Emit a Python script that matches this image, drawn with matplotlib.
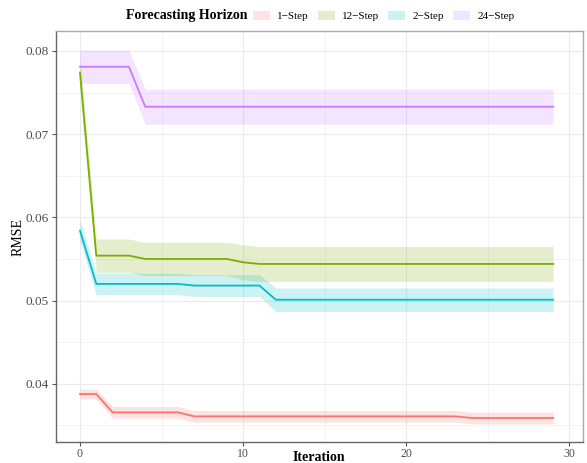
import numpy as np
import matplotlib.pyplot as plt
from matplotlib.patches import Patch

plt.rcParams["font.family"] = ["Liberation Serif", "DejaVu Serif"]

# RMSE per iteration for each forecasting horizon
iterations = np.arange(30)

rmse_1 = [0.03876, 0.03876] + [0.03656] * 5 + [0.03608] * 17 + [0.03588] * 6
rmse_12 = [0.0774, 0.0554, 0.0554, 0.0554] + [0.0550] * 6 + [0.0546] + [0.0544] * 19
rmse_2 = [0.0584] + [0.0520] * 6 + [0.0518] * 5 + [0.0501] * 18
rmse_24 = [0.0781] * 4 + [0.0733] * 26

# half-width of the shaded uncertainty band
band_1 = [0.0006, 0.0006] + [0.0007] * 28
band_12 = [0.0020] * 10 + [0.0021] * 20
band_2 = [0.0013] * 12 + [0.0014] * 18
band_24 = [0.0020] * 4 + [0.0021] * 26

labels = ["1\u2212Step", "12\u2212Step", "2\u2212Step", "24\u2212Step"]
colors = ["#F8766D", "#7CAE00", "#00BFC4", "#C77CFF"]
series = [rmse_1, rmse_12, rmse_2, rmse_24]
bands = [band_1, band_12, band_2, band_24]

fig = plt.figure(figsize=(5.87, 4.63), dpi=100)
ax = fig.add_axes([0.0954, 0.0454, 0.897, 0.8876])

for y, b, c in zip(series, bands, colors):
    y = np.array(y)
    b = np.array(b)
    ax.fill_between(iterations, y - b, y + b, color=c, alpha=0.2, linewidth=0)
    ax.plot(iterations, y, color=c, linewidth=1.3)

ax.set_xlim(-1.47, 30.8)
ax.set_ylim(0.0330, 0.0824)
ax.set_xticks([0, 10, 20, 30])
ax.set_yticks([0.04, 0.05, 0.06, 0.07, 0.08])
ax.set_xticks([5, 15, 25], minor=True)
ax.set_yticks([0.035, 0.045, 0.055, 0.065, 0.075], minor=True)
ax.set_yticklabels(["0.04", "0.05", "0.06", "0.07", "0.08"])
ax.grid(which="major", color="#ebebeb", linewidth=0.8)
ax.grid(which="minor", color="#f2f2f2", linewidth=0.6)
ax.set_axisbelow(True)
ax.tick_params(which="major", length=3, color="#555555", labelsize=9.5,
               labelcolor="#4d4d4d", pad=2)
ax.tick_params(axis="x", which="major", labelsize=8.5, pad=1)
ax.tick_params(which="minor", length=0)
for name, sp in ax.spines.items():
    sp.set_color("#666666" if name in ("left", "bottom") else "#aaaaaa")
    sp.set_linewidth(1.0)

ax.set_xlabel("Iteration", fontsize=10, fontweight="bold", va="center")
ax.xaxis.set_label_coords(0.5, -0.037)
ax.set_ylabel("RMSE", fontsize=10, va="center")
ax.yaxis.set_label_coords(-0.072, 0.5)

# legend row above the panel: title on the left, then the fill swatches
legend_y = 1 - 16 / 463
fig.text(126 / 587, legend_y, "Forecasting Horizon", fontsize=10,
         fontweight="bold", ha="left", va="center")
handles = [Patch(facecolor=c, alpha=0.2, edgecolor="none") for c in colors]
fig.legend(handles, labels, loc="center left", bbox_to_anchor=(253 / 587, legend_y),
           ncol=4, frameon=False, fontsize=8, borderpad=0, borderaxespad=0,
           handlelength=1.5, handleheight=0.9, columnspacing=0.8, handletextpad=0.7)

fig.savefig("out.png", dpi=100)
